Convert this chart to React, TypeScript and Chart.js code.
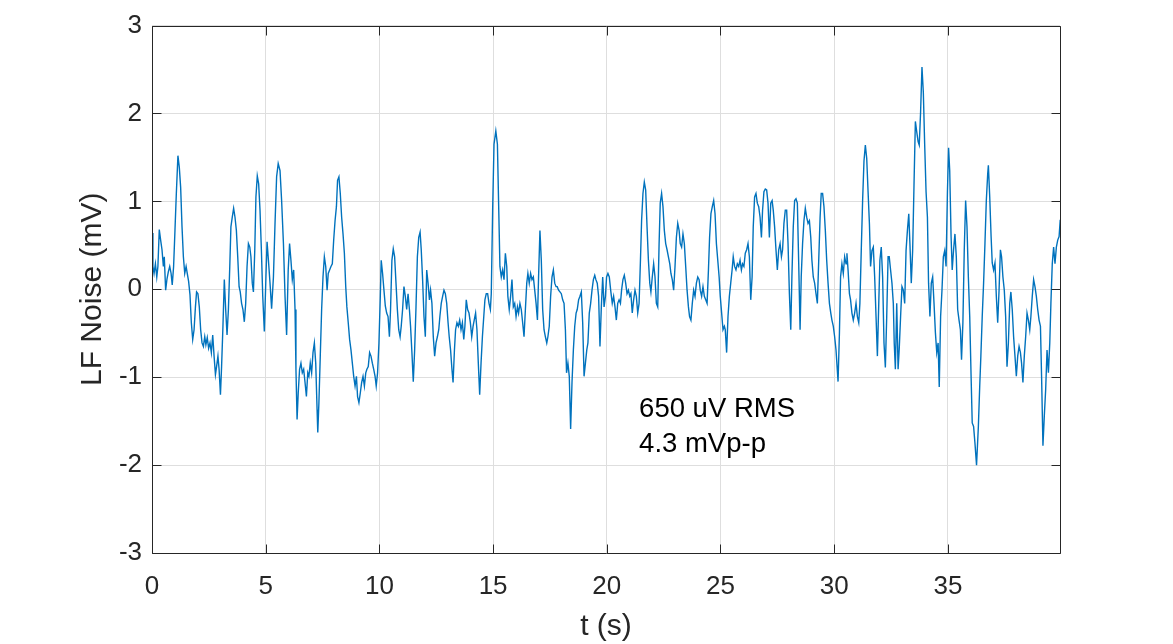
import React, { useEffect, useRef } from "react";
import { Chart, registerables } from "chart.js";

Chart.register(...registerables);

// Sample times (s)
const timeS: number[] = [
  0.00, 0.04, 0.09, 0.15, 0.21, 0.26, 0.32, 0.38, 0.44, 0.50, 0.54, 0.60, 0.66, 0.72, 0.78, 0.84, 0.89, 0.95,
  1.01, 1.07, 1.14, 1.20, 1.26, 1.32, 1.38, 1.44, 1.50, 1.55, 1.61, 1.67, 1.73, 1.79, 1.85, 1.91, 1.96,
  2.02, 2.08, 2.14, 2.20, 2.26, 2.32, 2.37, 2.43, 2.49, 2.55, 2.61, 2.67, 2.73, 2.79, 2.84, 2.90, 2.95,
  3.01, 3.06, 3.12, 3.18, 3.24, 3.30, 3.36, 3.42, 3.47, 3.53, 3.59, 3.65, 3.71, 3.77, 3.83, 3.88, 3.94,
  4.00, 4.06, 4.12, 4.18, 4.24, 4.30, 4.35, 4.41, 4.46, 4.52, 4.57, 4.63, 4.69, 4.75, 4.81, 4.87, 4.94,
  5.01, 5.06, 5.12, 5.19, 5.26, 5.34, 5.41, 5.48, 5.55, 5.63, 5.70, 5.78, 5.85, 5.92, 5.99,
  6.05, 6.11, 6.17, 6.23, 6.29, 6.33, 6.38, 6.43, 6.49, 6.55, 6.61, 6.67, 6.73, 6.79, 6.85, 6.90, 6.96,
  7.02, 7.08, 7.14, 7.20, 7.26, 7.29, 7.34, 7.40, 7.46, 7.52, 7.58, 7.64, 7.70, 7.75, 7.81, 7.87, 7.93, 7.99,
  8.05, 8.11, 8.16, 8.22, 8.28, 8.34, 8.40, 8.46, 8.52, 8.57, 8.63, 8.69, 8.75, 8.81, 8.87, 8.93, 8.99,
  9.04, 9.10, 9.16, 9.22, 9.28, 9.34, 9.40, 9.45, 9.51, 9.57, 9.63, 9.69, 9.75, 9.81, 9.86, 9.92, 9.98,
  10.04, 10.08, 10.14, 10.20, 10.26, 10.32, 10.38, 10.44, 10.49, 10.55, 10.61, 10.67, 10.73, 10.79, 10.85, 10.91, 10.96,
  11.02, 11.08, 11.14, 11.20, 11.26, 11.32, 11.37, 11.43, 11.49, 11.55, 11.61, 11.67, 11.73, 11.79, 11.84, 11.90, 11.96,
  12.02, 12.08, 12.14, 12.20, 12.25, 12.31, 12.37, 12.43, 12.49, 12.55, 12.61, 12.66, 12.72, 12.78, 12.84, 12.90, 12.96,
  13.02, 13.07, 13.13, 13.19, 13.24, 13.30, 13.35, 13.41, 13.47, 13.53, 13.59, 13.65, 13.71, 13.76, 13.82, 13.88, 13.94,
  14.00, 14.06, 14.12, 14.17, 14.23, 14.29, 14.35, 14.41, 14.47, 14.53, 14.59, 14.64, 14.70, 14.76, 14.82, 14.88, 14.92, 14.98,
  15.04, 15.12, 15.19, 15.24, 15.30, 15.36, 15.42, 15.48, 15.54, 15.60, 15.65, 15.71, 15.77, 15.83, 15.89, 15.95,
  16.01, 16.07, 16.12, 16.18, 16.24, 16.30, 16.36, 16.42, 16.48, 16.53, 16.59, 16.65, 16.71, 16.77, 16.83, 16.89, 16.95,
  17.00, 17.06, 17.12, 17.18, 17.24, 17.30, 17.36, 17.41, 17.47, 17.53, 17.59, 17.65, 17.71, 17.77, 17.82, 17.88, 17.94,
  18.00, 18.06, 18.12, 18.18, 18.23, 18.29, 18.35, 18.41, 18.47, 18.53, 18.59, 18.65, 18.70, 18.76, 18.82, 18.88, 18.94,
  19.00, 19.06, 19.12, 19.17, 19.23, 19.29, 19.35, 19.41, 19.47, 19.52, 19.58, 19.64, 19.70, 19.76, 19.82, 19.88, 19.94, 19.99,
  20.05, 20.11, 20.17, 20.24, 20.30, 20.36, 20.42, 20.48, 20.54, 20.60, 20.65, 20.71, 20.77, 20.83, 20.89, 20.95,
  21.01, 21.06, 21.12, 21.18, 21.24, 21.30, 21.36, 21.42, 21.48, 21.53, 21.59, 21.65, 21.71, 21.77, 21.83, 21.89, 21.94,
  22.00, 22.06, 22.12, 22.18, 22.24, 22.30, 22.35, 22.41, 22.47, 22.53, 22.59, 22.65, 22.71, 22.77, 22.82, 22.88, 22.94,
  23.00, 23.06, 23.12, 23.18, 23.23, 23.29, 23.35, 23.41, 23.47, 23.53, 23.59, 23.64, 23.70, 23.76, 23.82, 23.88, 23.94,
  24.00, 24.06, 24.11, 24.17, 24.23, 24.29, 24.35, 24.41, 24.47, 24.52, 24.58, 24.64, 24.70, 24.76, 24.82, 24.88, 24.94, 24.99,
  25.05, 25.11, 25.17, 25.21, 25.27, 25.33, 25.39, 25.45, 25.51, 25.56, 25.62, 25.68, 25.74, 25.80, 25.86, 25.92, 25.97,
  26.03, 26.09, 26.15, 26.21, 26.27, 26.33, 26.39, 26.44, 26.50, 26.56, 26.62, 26.68, 26.74, 26.80, 26.85, 26.91, 26.97,
  27.03, 27.09, 27.15, 27.21, 27.27, 27.32, 27.38, 27.44, 27.50, 27.56, 27.62, 27.68, 27.73, 27.79, 27.85, 27.91, 27.97,
  28.03, 28.09, 28.14, 28.20, 28.26, 28.32, 28.38, 28.44, 28.50, 28.55, 28.61, 28.67, 28.73, 28.79, 28.85, 28.91, 28.97,
  29.02, 29.08, 29.14, 29.20, 29.26, 29.32, 29.38, 29.43, 29.49, 29.55, 29.61, 29.67, 29.73, 29.79, 29.85, 29.90, 29.96,
  30.02, 30.08, 30.17, 30.23, 30.28, 30.34, 30.40, 30.46, 30.52, 30.56, 30.61, 30.67, 30.72, 30.78, 30.84, 30.90, 30.96,
  31.02, 31.08, 31.13, 31.19, 31.25, 31.31, 31.37, 31.43, 31.49, 31.55, 31.60, 31.66, 31.72, 31.78, 31.84, 31.90, 31.96,
  32.01, 32.07, 32.13, 32.19, 32.25, 32.31, 32.37, 32.42, 32.48, 32.54, 32.60, 32.64, 32.69, 32.75, 32.81, 32.86, 32.92, 32.98,
  33.04, 33.10, 33.16, 33.22, 33.28, 33.33, 33.39, 33.45, 33.51, 33.57, 33.63, 33.69, 33.74, 33.80, 33.86, 33.92, 33.98,
  34.04, 34.10, 34.15, 34.21, 34.27, 34.33, 34.39, 34.45, 34.51, 34.57, 34.62, 34.68, 34.74, 34.80, 34.86, 34.92, 34.98,
  35.03, 35.08, 35.14, 35.19, 35.25, 35.31, 35.37, 35.43, 35.49, 35.55, 35.60, 35.66, 35.72, 35.78, 35.84, 35.90, 35.96,
  36.02, 36.07, 36.13, 36.19, 36.26, 36.34, 36.40, 36.45, 36.51, 36.57, 36.63, 36.69, 36.75, 36.78, 36.84, 36.90, 36.95,
  37.01, 37.07, 37.13, 37.19, 37.25, 37.31, 37.36, 37.42, 37.48, 37.54, 37.60, 37.66, 37.72, 37.77, 37.83, 37.89, 37.95,
  38.01, 38.07, 38.13, 38.19, 38.24, 38.30, 38.36, 38.42, 38.48, 38.54, 38.60, 38.65, 38.71, 38.77, 38.83, 38.89, 38.95,
  39.01, 39.07, 39.12, 39.18, 39.24, 39.30, 39.36, 39.42, 39.48, 39.53, 39.59, 39.65, 39.71, 39.77, 39.83, 39.89, 39.94, 39.99,
];

// LF noise (mV) at each sample time
const noiseMv: number[] = [
  0.64, 0.26, 0.18, 0.29, 0.14, 0.26, 0.68, 0.56, 0.45, 0.26, 0.37, -0.01, 0.12, 0.20, 0.26, 0.18, 0.05, 0.26,
  0.67, 1.09, 1.52, 1.39, 1.16, 0.71, 0.37, 0.18, 0.26, 0.18, 0.09, -0.06, -0.38, -0.57, -0.46, -0.20, -0.03,
  -0.05, -0.20, -0.46, -0.61, -0.65, -0.54, -0.63, -0.55, -0.67, -0.61, -0.72, -0.52, -0.76, -0.97, -0.88, -0.76, -0.91,
  -1.20, -0.88, -0.42, 0.11, -0.23, -0.52, -0.23, 0.26, 0.71, 0.82, 0.92, 0.82, 0.67, 0.37, 0.03, -0.03, -0.16,
  -0.23, -0.37, -0.16, 0.26, 0.52, 0.48, 0.37, 0.07, -0.03, 0.45, 1.05, 1.29, 1.20, 0.90, 0.45, -0.08, -0.48,
  0.14, 0.54, 0.33, 0.07, -0.22, 0.14, 0.75, 1.28, 1.43, 1.35, 1.01, 0.52, -0.08, -0.52, 0.22,
  0.52, 0.33, 0.11, 0.22, -0.23, -0.91, -1.48, -1.18, -0.91, -0.84, -0.95, -0.91, -1.06, -1.22, -0.95, -0.99, -0.84,
  -0.95, -0.72, -0.61, -0.84, -1.37, -1.63, -1.29, -0.76, -0.23, 0.14, 0.37, 0.26, -0.01, 0.18, 0.22, 0.26, 0.29, 0.56,
  0.78, 0.94, 1.24, 1.28, 1.09, 0.82, 0.63, 0.41, 0.03, -0.20, -0.38, -0.57, -0.69, -0.84, -0.99, -1.10, -0.99,
  -1.22, -1.29, -1.18, -1.06, -0.99, -1.10, -0.95, -0.91, -0.88, -0.72, -0.76, -0.84, -0.91, -0.99, -1.10, -0.95, -0.61,
  -0.08, 0.33, 0.18, -0.01, -0.19, -0.27, -0.31, -0.54, -0.23, 0.33, 0.46, 0.37, 0.07, -0.23, -0.46, -0.54, -0.42,
  -0.23, 0.03, -0.08, -0.23, -0.05, -0.23, -0.42, -0.72, -1.05, -0.69, -0.20, 0.37, 0.59, 0.65, 0.45, 0.11, -0.31,
  -0.54, 0.22, 0.07, -0.12, -0.01, -0.16, -0.54, -0.76, -0.61, -0.54, -0.46, -0.31, -0.16, -0.08, -0.01, -0.05, -0.16,
  -0.38, -0.54, -0.69, -0.91, -1.06, -0.69, -0.46, -0.38, -0.42, -0.35, -0.46, -0.38, -0.57, -0.42, -0.12, -0.23, -0.27,
  -0.38, -0.54, -0.42, -0.35, -0.27, -0.46, -0.84, -1.20, -0.84, -0.54, -0.31, -0.12, -0.05, -0.05, -0.16, -0.23, -0.05, 0.90,
  1.65, 1.80, 1.65, 1.01, 0.26, 0.14, 0.22, 0.11, 0.41, 0.26, -0.08, -0.23, -0.08, 0.11, -0.20, -0.16,
  -0.31, -0.20, -0.27, -0.16, -0.23, -0.38, -0.54, -0.23, 0.07, 0.18, 0.07, 0.18, 0.11, 0.14, -0.01, -0.16, -0.35,
  0.14, 0.67, 0.33, -0.23, -0.46, -0.54, -0.61, -0.54, -0.42, -0.08, 0.14, 0.22, 0.07, 0.03, 0.03, -0.01, -0.03,
  -0.05, -0.12, -0.16, -0.46, -0.95, -0.84, -0.99, -1.59, -1.06, -0.69, -0.42, -0.27, -0.23, -0.12, -0.08, -0.03, -0.38,
  -0.99, -0.84, -0.69, -0.61, -0.27, -0.16, -0.01, 0.11, 0.16, 0.11, 0.07, -0.08, -0.65, -0.20, 0.14, -0.20, -0.08, 0.14,
  0.18, 0.14, -0.01, -0.16, -0.08, -0.20, -0.35, -0.16, -0.12, -0.16, -0.01, 0.11, 0.16, 0.07, -0.05, -0.01,
  -0.08, -0.05, -0.27, -0.12, -0.01, -0.08, -0.27, -0.16, 0.33, 0.78, 1.09, 1.22, 1.13, 0.71, 0.33, 0.07, -0.03,
  0.14, 0.29, 0.14, -0.16, -0.20, 0.52, 0.98, 1.09, 0.94, 0.67, 0.52, 0.45, 0.37, 0.29, 0.18, 0.11, -0.01,
  0.26, 0.59, 0.75, 0.67, 0.52, 0.48, 0.63, 0.52, 0.26, -0.01, -0.20, -0.31, -0.35, -0.16, -0.01, -0.08, 0.07,
  0.14, 0.11, -0.01, -0.08, 0.03, -0.08, -0.12, -0.16, 0.22, 0.59, 0.86, 0.94, 1.01, 0.86, 0.52, 0.33, 0.14, -0.08,
  -0.27, -0.46, -0.42, -0.46, -0.72, -0.31, -0.08, 0.07, 0.22, 0.37, 0.26, 0.22, 0.29, 0.26, 0.33, 0.22, 0.29,
  0.26, 0.41, 0.45, 0.52, 0.37, -0.12, 0.14, 0.71, 1.05, 1.09, 0.98, 0.94, 0.82, 0.59, 0.90, 1.11, 1.14,
  1.13, 0.98, 0.59, 0.98, 1.01, 0.90, 0.71, 0.45, 0.22, 0.45, 0.52, 0.37, 0.45, 0.75, 0.90, 0.90, 0.52,
  -0.05, -0.46, 0.14, 0.71, 1.01, 1.03, 0.98, 0.29, -0.46, 0.14, 0.52, 0.78, 0.92, 0.82, 0.75, 0.78, 0.59,
  0.33, 0.14, 0.07, -0.05, -0.16, 0.33, 0.82, 1.09, 1.09, 0.94, 0.67, 0.33, 0.07, -0.16, -0.27, -0.35, -0.42,
  -0.54, -0.69, -1.05, -0.50, 0.14, 0.29, 0.18, 0.37, 0.29, 0.41, 0.22, -0.05, -0.12, -0.27, -0.35, -0.27, -0.16,
  -0.31, -0.38, -0.16, 0.44, 1.01, 1.46, 1.64, 1.49, 1.11, 0.74, 0.26, 0.44, 0.48, 0.14, -0.31, -0.76, -0.16,
  0.33, 0.48, 0.14, -0.61, -0.89, -0.31, 0.37, 0.37, 0.22, 0.07, -0.16, -0.61, -0.91, -0.16, -0.91, -0.68, -0.31, 0.03,
  -0.01, -0.16, 0.44, 0.67, 0.86, 0.52, 0.07, 0.44, 1.19, 1.91, 1.79, 1.68, 1.64, 2.02, 2.53, 2.24, 1.64,
  1.11, 0.82, 0.07, -0.31, 0.07, 0.14, -0.16, -0.49, -0.72, -0.61, -1.11, -0.31, -0.01, 0.37, 0.44, 0.26, 1.11,
  1.61, 1.35, 0.60, 0.22, 0.45, 0.63, 0.37, -0.23, -0.35, -0.46, -0.80, -0.38, 0.45, 1.01, 0.71, 0.14, -0.31,
  -0.99, -1.52, -1.56, -1.75, -2.00, -1.56, -1.10, -0.76, -0.31, 0.07, 0.52, 1.01, 1.31, 1.41, 1.05, 0.60, 0.30,
  0.22, 0.30, -0.08, -0.38, -0.01, 0.45, 0.37, 0.14, -0.01, -0.31, -0.88, -0.61, -0.16, -0.03, -0.23, -0.54, -0.76,
  -0.99, -0.76, -0.65, -0.72, -0.84, -1.06, -0.76, -0.54, -0.27, -0.35, -0.46, -0.31, -0.08, 0.11, 0.03, -0.08, -0.23,
  -0.35, -0.42, -0.99, -1.78, -1.44, -1.14, -0.69, -0.95, -0.61, -0.16, 0.29, 0.48, 0.29, 0.48, 0.56, 0.60, 0.79, 0.84,
];

const xTickValues = [0, 5, 10, 15, 20, 25, 30, 35];
const yTickValues = [-3, -2, -1, 0, 1, 2, 3];
const X_MIN = 0;
const X_MAX = 39.93;
const Y_MIN = -3;
const Y_MAX = 3;
const xAxisTitle = "t (s)";
const yAxisTitle = "LF Noise (mV)";
const noteLines = ["650 uV RMS", "4.3 mVp-p"];
const noteT = 21.42;
const noteV = [-1.45, -1.85];

const FONT = '"Liberation Sans", Arial, Helvetica, sans-serif';
const AXIS_COLOR = "#262626";
const GRID_COLOR = "#dedede";
const LINE_COLOR = "#0072BD";

const boxPlugin = {
  id: "matlabBox",
  afterDatasetsDraw(chart: any) {
    const { ctx, chartArea, scales } = chart;
    const { left, right, top, bottom } = chartArea;
    ctx.save();
    // annotation text
    ctx.fillStyle = "#000000";
    ctx.font = `27.5px ${FONT}`;
    ctx.textAlign = "left";
    ctx.textBaseline = "alphabetic";
    noteLines.forEach((s, i) => {
      ctx.fillText(s, scales.x.getPixelForValue(noteT), scales.y.getPixelForValue(noteV[i]));
    });
    // box
    ctx.strokeStyle = AXIS_COLOR;
    ctx.lineWidth = 1;
    const L = Math.round(left) + 0.5;
    const R = Math.round(right) + 0.5;
    const T = Math.round(top) + 0.5;
    const B = Math.round(bottom) + 0.5;
    ctx.beginPath();
    ctx.rect(L, T, R - L, B - T);
    ctx.stroke();
    const tl = 9;
    ctx.beginPath();
    xTickValues.forEach((v) => {
      const px = Math.round(scales.x.getPixelForValue(v)) + 0.5;
      ctx.moveTo(px, B);
      ctx.lineTo(px, B - tl);
      ctx.moveTo(px, T);
      ctx.lineTo(px, T + tl);
    });
    yTickValues.forEach((v) => {
      const py = Math.round(scales.y.getPixelForValue(v)) + 0.5;
      ctx.moveTo(L, py);
      ctx.lineTo(L + tl, py);
      ctx.moveTo(R, py);
      ctx.lineTo(R - tl, py);
    });
    ctx.stroke();
    ctx.restore();
  },
};

export default function App() {
  const canvasRef = useRef<HTMLCanvasElement | null>(null);

  useEffect(() => {
    const canvas = canvasRef.current;
    if (!canvas) return;
    const points = timeS.map((t, i) => ({ x: t, y: noiseMv[i] }));
    const chart = new Chart(canvas, {
      type: "line",
      data: {
        datasets: [
          {
            data: points,
            borderColor: LINE_COLOR,
            borderWidth: 1.4,
            pointRadius: 0,
            tension: 0,
            fill: false,
          },
        ],
      },
      options: {
        animation: false,
        responsive: false,
        devicePixelRatio: 1,
        events: [],
        layout: { padding: { left: 0, top: 24, right: 113, bottom: 0 } },
        plugins: { legend: { display: false }, tooltip: { enabled: false } },
        scales: {
          x: {
            type: "linear",
            min: X_MIN,
            max: X_MAX,
            afterFit: (s: any) => {
              s.height = 91;
            },
            afterBuildTicks: (s: any) => {
              s.ticks = xTickValues.map((v) => ({ value: v }));
            },
            ticks: {
              includeBounds: false,
              autoSkip: false,
              maxRotation: 0,
              padding: 18,
              color: AXIS_COLOR,
              font: { family: FONT, size: 26 },
              callback: (v: any) => String(v),
            },
            grid: { color: GRID_COLOR, lineWidth: 1, drawTicks: false },
            border: { display: false },
            title: {
              display: true,
              text: xAxisTitle,
              color: AXIS_COLOR,
              font: { family: FONT, size: 30 },
              padding: { top: 0, bottom: -1 },
            },
          },
          y: {
            type: "linear",
            min: Y_MIN,
            max: Y_MAX,
            afterFit: (s: any) => {
              s.width = 152;
            },
            afterBuildTicks: (s: any) => {
              s.ticks = yTickValues.map((v) => ({ value: v }));
            },
            ticks: {
              autoSkip: false,
              padding: 10,
              color: AXIS_COLOR,
              font: { family: FONT, size: 26 },
              callback: (v: any) => String(v),
            },
            grid: { color: GRID_COLOR, lineWidth: 1, drawTicks: false },
            border: { display: false },
            title: {
              display: true,
              text: yAxisTitle,
              color: AXIS_COLOR,
              font: { family: FONT, size: 30 },
              padding: { top: 75, bottom: 0 },
            },
          },
        },
      },
      plugins: [boxPlugin],
    });
    return () => chart.destroy();
  }, []);

  return (
    <div style={{ position: "absolute", left: 0, top: 0, width: 1173, height: 644, background: "#fff" }}>
      <canvas ref={canvasRef} width={1173} height={644} style={{ display: "block" }} />
    </div>
  );
}
